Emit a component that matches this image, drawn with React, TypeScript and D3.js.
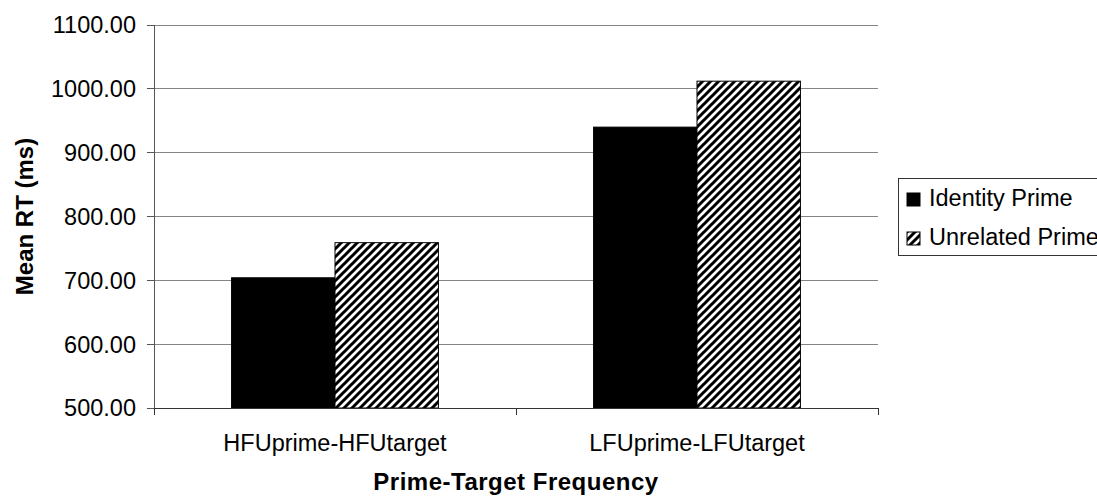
import React from "react";
import * as d3 from "d3";

const categories = ["HFUprime-HFUtarget", "LFUprime-LFUtarget"];
const seriesNames = ["Identity Prime", "Unrelated Prime"];
const identityValues = [704, 940];
const unrelatedValues = [759, 1012];
const yTicks = [500, 600, 700, 800, 900, 1000, 1100];

const W = 1097;
const H = 497;
const plot = { left: 154, right: 878, top: 25, bottom: 408 };
const FONT = "'Liberation Sans', Arial, sans-serif";

export default function App() {
  const y = d3.scaleLinear().domain([500, 1100]).range([plot.bottom, plot.top]);
  const x = d3.scaleBand<string>().domain(categories).range([plot.left, plot.right]).padding(0);
  const xs = d3
    .scaleBand<string>()
    .domain(seriesNames)
    .range([0, x.bandwidth()])
    .paddingInner(0)
    .paddingOuter(0.75);

  const seriesValues: Record<string, number[]> = {
    "Identity Prime": identityValues,
    "Unrelated Prime": unrelatedValues,
  };
  const fills: Record<string, string> = {
    "Identity Prime": "#000",
    "Unrelated Prime": "url(#diag)",
  };

  const catEdges = [plot.left, ...categories.map((c) => (x(c) as number) + x.bandwidth())];

  return (
    <svg
      width={W}
      height={H}
      style={{ position: "absolute", left: 0, top: 0, background: "#fff" }}
      fontFamily={FONT}
    >
      <defs>
        <pattern id="diag" width={8} height={8} patternUnits="userSpaceOnUse">
          <rect width={8} height={8} fill="#fff" />
          <path d="M-2,2 L2,-2 M0,8 L8,0 M6,10 L10,6" stroke="#000" strokeWidth={3} />
        </pattern>
      </defs>

      {/* horizontal gridlines */}
      {yTicks.map((t) => (
        <line
          key={"g" + t}
          x1={plot.left}
          x2={plot.right}
          y1={y(t)}
          y2={y(t)}
          stroke="#858585"
          strokeWidth={1}
          shapeRendering="crispEdges"
        />
      ))}

      {/* bars */}
      {seriesNames.map((s) =>
        categories.map((c, i) => {
          const v = seriesValues[s][i];
          const bx = (x(c) as number) + (xs(s) as number);
          return (
            <rect
              key={s + c}
              x={bx}
              y={y(v)}
              width={xs.bandwidth()}
              height={y(500) - y(v)}
              fill={fills[s]}
              stroke="#000"
              strokeWidth={1}
            />
          );
        })
      )}

      {/* y axis */}
      <line
        x1={plot.left}
        x2={plot.left}
        y1={plot.top}
        y2={plot.bottom}
        stroke="#555"
        shapeRendering="crispEdges"
      />
      {yTicks.map((t) => (
        <g key={"t" + t}>
          <line
            x1={plot.left - 7}
            x2={plot.left}
            y1={y(t)}
            y2={y(t)}
            stroke="#555"
            shapeRendering="crispEdges"
          />
          <text
            x={plot.left - 18}
            y={y(t)}
            dy="0.36em"
            textAnchor="end"
            fontSize={23.5}
            fill="#000"
          >
            {t.toFixed(2)}
          </text>
        </g>
      ))}

      {/* x axis */}
      <line
        x1={plot.left}
        x2={plot.right}
        y1={plot.bottom}
        y2={plot.bottom}
        stroke="#333"
        shapeRendering="crispEdges"
      />
      {catEdges.map((e, i) => (
        <line
          key={"xt" + i}
          x1={e}
          x2={e}
          y1={plot.bottom}
          y2={plot.bottom + 7}
          stroke="#333"
          shapeRendering="crispEdges"
        />
      ))}
      {categories.map((c) => (
        <text
          key={"xl" + c}
          x={(x(c) as number) + x.bandwidth() / 2}
          y={451}
          textAnchor="middle"
          fontSize={23.5}
          fill="#000"
        >
          {c}
        </text>
      ))}

      {/* axis titles */}
      <text
        x={(plot.left + plot.right) / 2}
        y={490}
        textAnchor="middle"
        fontSize={24}
        fontWeight="bold"
        letterSpacing={0.5}
        fill="#000"
      >
        Prime-Target Frequency
      </text>
      <text
        transform={`translate(33,${(plot.top + plot.bottom) / 2}) rotate(-90)`}
        textAnchor="middle"
        fontSize={24}
        fontWeight="bold"
        fill="#000"
      >
        Mean RT (ms)
      </text>

      {/* legend */}
      <rect x={898.5} y={178.5} width={220} height={77} fill="#fff" stroke="#333" strokeWidth={1} />
      {seriesNames.map((s, i) => (
        <g key={"lg" + s} transform={`translate(907,${193 + i * 39})`}>
          <rect x={0} y={0} width={13} height={13} fill={fills[s]} stroke="#000" strokeWidth={1} />
          <text x={22} y={13} fontSize={23.5} fill="#000">
            {s}
          </text>
        </g>
      ))}
    </svg>
  );
}
